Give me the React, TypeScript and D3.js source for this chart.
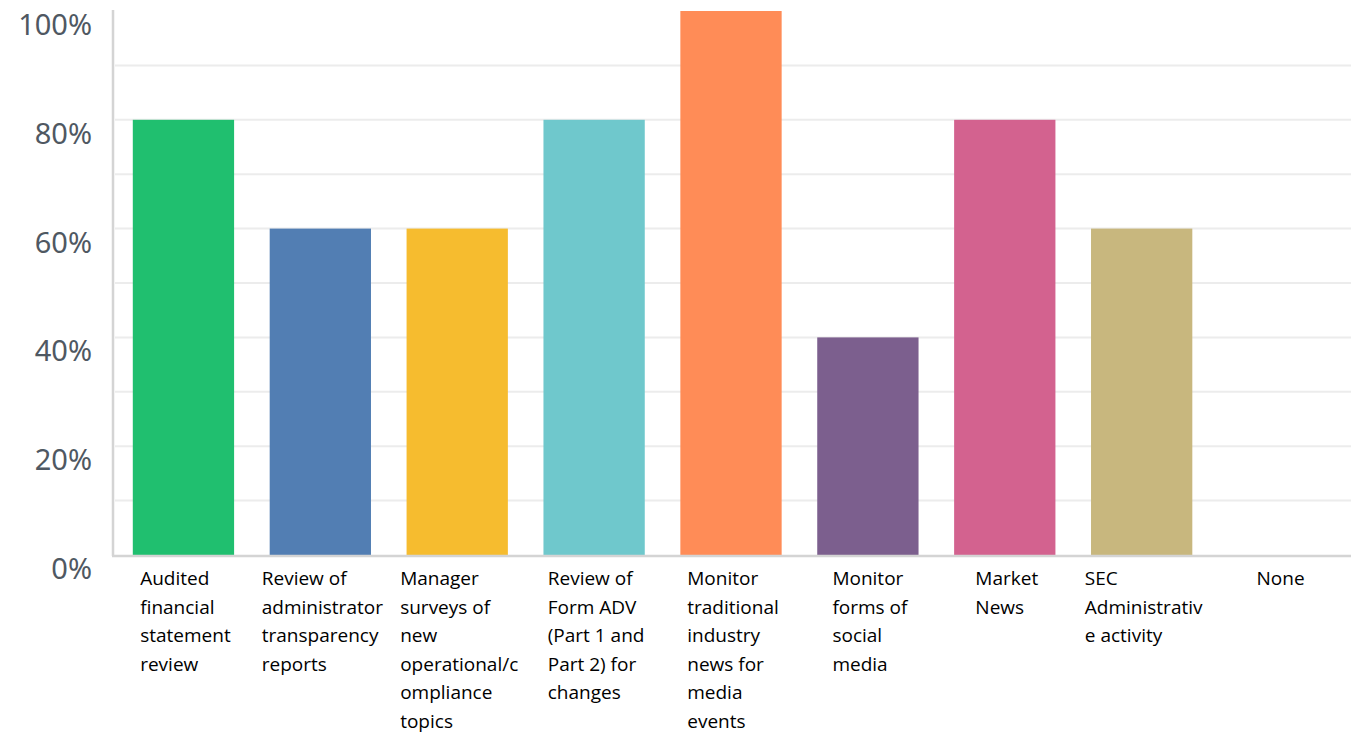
import { useMemo } from "react";
import * as d3 from "d3";

const categories = [
  "Audited financial statement review",
  "Review of administrator transparency reports",
  "Manager surveys of new operational/compliance topics",
  "Review of Form ADV (Part 1 and Part 2) for changes",
  "Monitor traditional industry news for media events",
  "Monitor forms of social media",
  "Market News",
  "SEC Administrative activity",
  "None",
];

// wrapped tick labels, as they break in the picture
const labelLines = [
  ["Audited", "financial", "statement", "review"],
  ["Review of", "administrator", "transparency", "reports"],
  ["Manager", "surveys of", "new", "operational/c", "ompliance", "topics"],
  ["Review of", "Form ADV", "(Part 1 and", "Part 2) for", "changes"],
  ["Monitor", "traditional", "industry", "news for", "media", "events"],
  ["Monitor", "forms of", "social", "media"],
  ["Market", "News"],
  ["SEC", "Administrativ", "e activity"],
  ["None"],
];

const values = [80, 60, 60, 80, 100, 40, 80, 60, 0];

const colors = [
  "#20bf6f",
  "#527eb3",
  "#f6bc2f",
  "#6fc8cc",
  "#ff8c57",
  "#7c5f8e",
  "#d3628f",
  "#c8b77e",
  "#999999",
];

const yTicks = [0, 20, 40, 60, 80, 100];
const gridTicks = [10, 20, 30, 40, 50, 60, 70, 80, 90];

const width = 1351;
const height = 733;
const labelFont = "19px 'Open Sans'";

export default function App() {
  const x = d3
    .scaleBand<string>()
    .domain(categories)
    .range([115, 1347])
    .paddingInner(0.26)
    .paddingOuter(0.13);

  const y = d3.scaleLinear().domain([0, 100]).range([555, 11]);

  // block width of each wrapped label, so the left-aligned block sits under its bar
  const blockWidths = useMemo(() => {
    const ctx = document.createElement("canvas").getContext("2d");
    if (!ctx) return labelLines.map(() => 100);
    ctx.font = labelFont;
    return labelLines.map((lines) => d3.max(lines, (l) => ctx.measureText(l).width) as number);
  }, []);

  return (
    <svg
      width={width}
      height={height}
      style={{ position: "absolute", left: 0, top: 0, background: "#fff" }}
    >
      {gridTicks.map((t) => (
        <line
          key={t}
          x1={115}
          x2={width}
          y1={y(t)}
          y2={y(t)}
          stroke="#ececec"
          strokeWidth={2}
        />
      ))}
      {yTicks.map((t) => (
        <text
          key={t}
          x={92}
          y={y(t) + 24}
          textAnchor="end"
          fontFamily="'Noto Sans', sans-serif"
          fontSize={29}
          fill="#4f5862"
        >
          {t}%
        </text>
      ))}
      {categories.map((c, i) => (
        <rect
          key={c}
          x={x(c)}
          y={y(values[i])}
          width={x.bandwidth()}
          height={y(0) - y(values[i])}
          fill={colors[i]}
        />
      ))}
      <line x1={113} x2={113} y1={10} y2={556} stroke="#d4d4d4" strokeWidth={2.5} />
      <line x1={112} x2={width} y1={556} y2={556} stroke="#d4d4d4" strokeWidth={2.5} />
      {categories.map((c, i) => {
        const cx = (x(c) as number) + x.bandwidth() / 2 + 2;
        const left = cx - blockWidths[i] / 2;
        return (
          <text
            key={c}
            fontFamily="'Open Sans', sans-serif"
            fontSize={19}
            fill="#000"
          >
            {labelLines[i].map((line, j) => (
              <tspan key={j} x={left} y={585 + j * 28.6}>
                {line}
              </tspan>
            ))}
          </text>
        );
      })}
    </svg>
  );
}
